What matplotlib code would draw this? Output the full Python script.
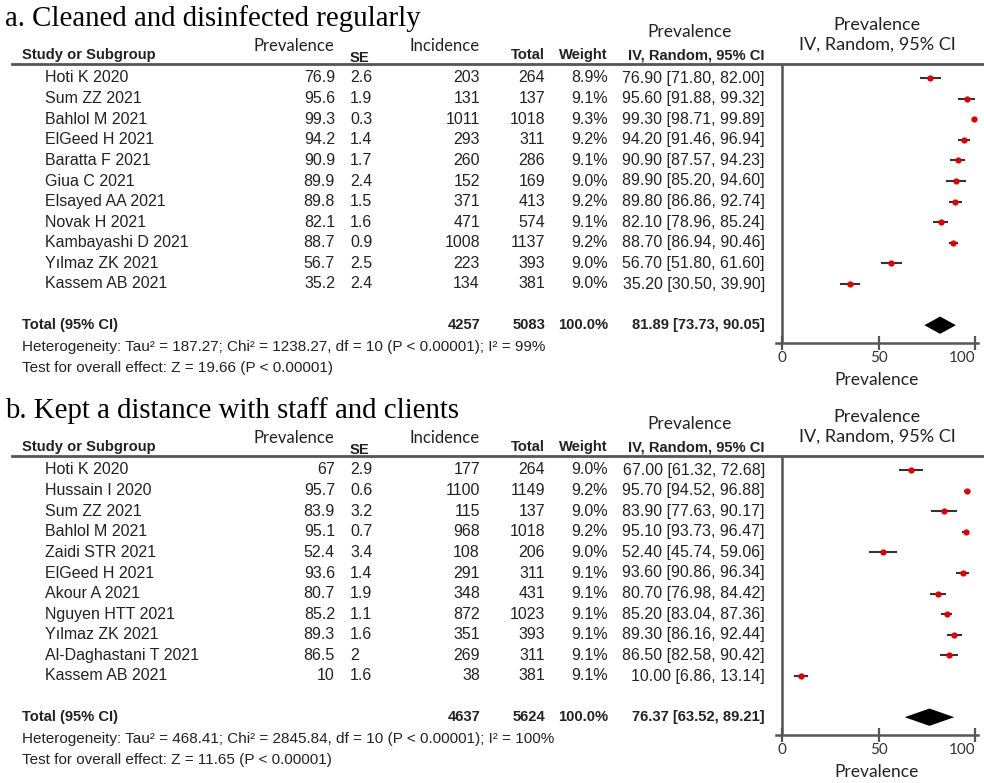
import matplotlib.pyplot as plt
from matplotlib.lines import Line2D

# panel a: cleaned and disinfected regularly
a_studies = ["Hoti K 2020", "Sum ZZ 2021", "Bahlol M 2021", "ElGeed H 2021", "Baratta F 2021",
             "Giua C 2021", "Elsayed AA 2021", "Novak H 2021", "Kambayashi D 2021",
             "Yılmaz ZK 2021", "Kassem AB 2021"]
a_prev = [76.9, 95.6, 99.3, 94.2, 90.9, 89.9, 89.8, 82.1, 88.7, 56.7, 35.2]
a_se = [2.6, 1.9, 0.3, 1.4, 1.7, 2.4, 1.5, 1.6, 0.9, 2.5, 2.4]
a_inc = [203, 131, 1011, 293, 260, 152, 371, 471, 1008, 223, 134]
a_total = [264, 137, 1018, 311, 286, 169, 413, 574, 1137, 393, 381]
a_weight = [8.9, 9.1, 9.3, 9.2, 9.1, 9.0, 9.2, 9.1, 9.2, 9.0, 9.0]
a_lo = [71.80, 91.88, 98.71, 91.46, 87.57, 85.20, 86.86, 78.96, 86.94, 51.80, 30.50]
a_hi = [82.00, 99.32, 99.89, 96.94, 94.23, 94.60, 92.74, 85.24, 90.46, 61.60, 39.90]
a_pooled = [4257, 5083, 81.89, 73.73, 90.05]
a_het = "Heterogeneity: Tau² = 187.27; Chi² = 1238.27, df = 10 (P < 0.00001); I² = 99%"
a_test = "Test for overall effect: Z = 19.66 (P < 0.00001)"

# panel b: kept a distance with staff and clients
b_studies = ["Hoti K 2020", "Hussain I 2020", "Sum ZZ 2021", "Bahlol M 2021", "Zaidi STR 2021",
             "ElGeed H 2021", "Akour A 2021", "Nguyen HTT 2021", "Yılmaz ZK 2021",
             "Al-Daghastani T 2021", "Kassem AB 2021"]
b_prev = [67, 95.7, 83.9, 95.1, 52.4, 93.6, 80.7, 85.2, 89.3, 86.5, 10]
b_se = [2.9, 0.6, 3.2, 0.7, 3.4, 1.4, 1.9, 1.1, 1.6, 2, 1.6]
b_inc = [177, 1100, 115, 968, 108, 291, 348, 872, 351, 269, 38]
b_total = [264, 1149, 137, 1018, 206, 311, 431, 1023, 393, 311, 381]
b_weight = [9.0, 9.2, 9.0, 9.2, 9.0, 9.1, 9.1, 9.1, 9.1, 9.1, 9.1]
b_lo = [61.32, 94.52, 77.63, 93.73, 45.74, 90.86, 76.98, 83.04, 86.16, 82.58, 6.86]
b_hi = [72.68, 96.88, 90.17, 96.47, 59.06, 96.34, 84.42, 87.36, 92.44, 90.42, 13.14]
b_pooled = [4637, 5624, 76.37, 63.52, 89.21]
b_het = "Heterogeneity: Tau² = 468.41; Chi² = 2845.84, df = 10 (P < 0.00001); I² = 100%"
b_test = "Test for overall effect: Z = 11.65 (P < 0.00001)"

W, H = 984, 783
fig = plt.figure(figsize=(W / 100, H / 100), dpi=100)

SANS = ['Liberation Sans', 'DejaVu Sans']
CAL = ['Lato', 'DejaVu Sans']
SERIF = ['Liberation Serif', 'DejaVu Serif']
TXT = '#222222'
GRAY = '#555555'
FS = 11.5   # table body
FB = 10.6   # bold headers / totals
ROW0, STEP = 78, 20.6


def px(x, y, s, **kw):
    kw.setdefault('va', 'center')
    kw.setdefault('color', TXT)
    fig.text(x / W, 1 - y / H, s, **kw)


def panel(dy, title, studies, prev, se, inc, total, weight, lo, hi, pooled, het, test):
    px(5, 19 + dy, title, family=SERIF, fontsize=20.8, color='black')
    px(22, 55 + dy, "Study or Subgroup", family=SANS, fontsize=FB, weight='bold')
    px(334, 46 + dy, "Prevalence", family=CAL, fontsize=12, ha='right')
    px(350, 58 + dy, "SE", family=SANS, fontsize=FB, weight='bold')
    px(480, 46 + dy, "Incidence", family=CAL, fontsize=12, ha='right')
    px(545, 55 + dy, "Total", family=SANS, fontsize=FB, weight='bold', ha='right')
    px(608, 55 + dy, "Weight", family=SANS, fontsize=FB, weight='bold', ha='right')
    px(690, 32 + dy, "Prevalence", family=CAL, fontsize=12.5, ha='center')
    px(765, 55 + dy, "IV, Random, 95% CI", family=SANS, fontsize=FB, weight='bold', ha='right')
    px(877, 25 + dy, "Prevalence", family=CAL, fontsize=13, ha='center')
    px(877, 45 + dy, "IV, Random, 95% CI", family=CAL, fontsize=13, ha='center')
    fig.add_artist(Line2D([12 / W, 1], [1 - (64 + dy) / H] * 2, color=GRAY, lw=2))

    for i, name in enumerate(studies):
        y = ROW0 + i * STEP + dy
        px(45, y, name, family=SANS, fontsize=FS)
        px(335, y, f"{prev[i]:g}", family=SANS, fontsize=FS, ha='right')
        px(350, y, f"{se[i]:g}", family=SANS, fontsize=FS)
        px(480, y, str(inc[i]), family=SANS, fontsize=FS, ha='right')
        px(545, y, str(total[i]), family=SANS, fontsize=FS, ha='right')
        px(608, y, f"{weight[i]:.1f}%", family=SANS, fontsize=FS, ha='right')
        px(765, y, f"{prev[i]:.2f} [{lo[i]:.2f}, {hi[i]:.2f}]", family=SANS, fontsize=FS, ha='right')

    ty = ROW0 + 12 * STEP + dy
    p_inc, p_n, p_est, p_lo, p_hi = pooled
    px(22, ty, "Total (95% CI)", family=SANS, fontsize=FB, weight='bold')
    px(480, ty, str(p_inc), family=SANS, fontsize=FB, weight='bold', ha='right')
    px(545, ty, str(p_n), family=SANS, fontsize=FB, weight='bold', ha='right')
    px(608, ty, "100.0%", family=SANS, fontsize=FB, weight='bold', ha='right')
    px(765, ty, f"{p_est:.2f} [{p_lo:.2f}, {p_hi:.2f}]", family=SANS, fontsize=FB,
       weight='bold', ha='right')
    px(22, 347 + dy, het, family=SANS, fontsize=11)
    px(22, 368 + dy, test, family=SANS, fontsize=11)

    # forest plot
    top, bot, left, right = 64 + dy, 343 + dy, 776, 978
    ax = fig.add_axes([left / W, 1 - bot / H, (right - left) / W, (bot - top) / H])
    ax.set_xlim(-3.1, 101.5)
    ax.set_ylim((bot - dy - ROW0) / STEP, (top - dy - ROW0) / STEP)
    ax.patch.set_alpha(0)
    ax.axvline(0, color=GRAY, lw=1.8, zorder=1)
    for i in range(len(studies)):
        ax.plot([lo[i], hi[i]], [i, i], color='#333333', lw=1.5, zorder=2)
        ax.plot(prev[i], i, 'o', color='#e00000', ms=4.5, mew=0, zorder=3)
    ax.fill([p_lo, p_est, p_hi, p_est], [12, 12 - 0.42, 12, 12 + 0.42], color='black', lw=0)
    for s in ['top', 'right', 'left']:
        ax.spines[s].set_visible(False)
    ax.spines['bottom'].set_color(GRAY)
    ax.spines['bottom'].set_linewidth(1.8)
    ax.set_yticks([])
    ax.set_xticks([0, 50, 100])
    ax.tick_params(axis='x', direction='inout', length=10, width=1.6, color=GRAY,
                   labelsize=11, labelcolor='#333333', pad=1)
    labels = ax.get_xticklabels()
    for t in labels:
        t.set_family(CAL)
    labels[-1].set_ha('right')
    px(877, 380 + dy, "Prevalence", family=CAL, fontsize=12.5, ha='center')


panel(0, "a. Cleaned and disinfected regularly", a_studies, a_prev, a_se, a_inc, a_total,
      a_weight, a_lo, a_hi, a_pooled, a_het, a_test)
panel(392, "b. Kept a distance with staff and clients", b_studies, b_prev, b_se, b_inc, b_total,
      b_weight, b_lo, b_hi, b_pooled, b_het, b_test)

fig.savefig("out.png", dpi=100, facecolor='white')
